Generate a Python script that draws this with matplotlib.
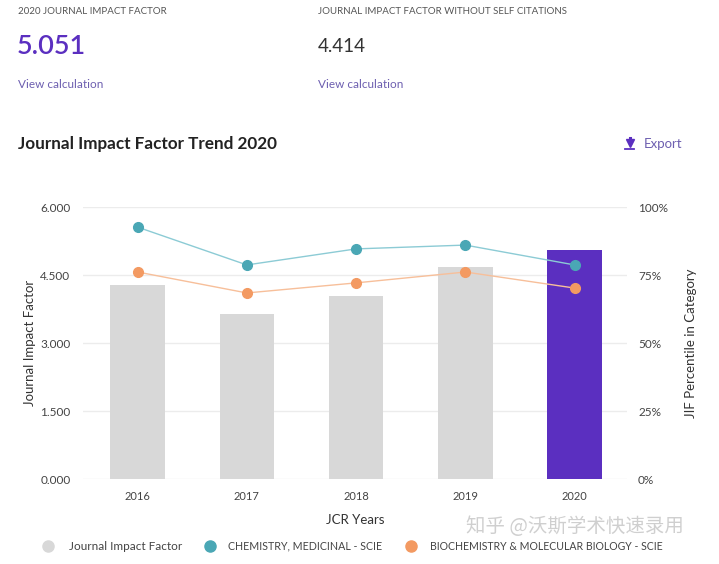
import matplotlib.pyplot as plt
from matplotlib.lines import Line2D
from matplotlib.ticker import FuncFormatter

plt.rcParams['font.family'] = ['Lato', 'DejaVu Sans']

years = ['2016', '2017', '2018', '2019', '2020']
jif = [4.28, 3.64, 4.04, 4.68, 5.051]
chem_med = [92.6, 78.7, 84.6, 86.0, 78.7]
biochem = [76.1, 68.4, 72.1, 76.1, 70.2]
y_ticks = [0, 1.5, 3.0, 4.5, 6.0]
pct_ticks = [0, 25, 50, 75, 100]

purple = '#5b2fc0'
gray_bar = '#d8d8d8'
teal = '#4aa7b5'
orange = '#f39a62'
txt = '#333333'

fig = plt.figure(figsize=(7.19, 5.64), dpi=100)
ax = fig.add_axes([83 / 719, 85 / 564, 544 / 719, 272 / 564])

x = list(range(len(years)))
colors = [gray_bar] * (len(years) - 1) + [purple]
ax.bar(x, jif, width=0.5, color=colors, zorder=2)
ax.set_ylim(0, 6)
ax.set_xlim(-0.5, 4.48)
ax.set_yticks(y_ticks)
ax.yaxis.set_major_formatter(FuncFormatter(lambda v, p: f'{v:.3f}'))
ax.set_xticks(x)
ax.set_xticklabels(years)
ax.grid(axis='y', color='#ececec', linewidth=1, zorder=0)
for s in ax.spines.values():
    s.set_visible(False)
ax.tick_params(length=0, labelsize=8.5, colors='#444444', pad=9)
ax.tick_params(axis='x', labelsize=8, pad=9)
ax.set_xlabel('JCR Years', fontsize=9.5, color=txt, labelpad=8)
ax.set_ylabel('Journal Impact Factor', fontsize=9.5, color=txt, labelpad=3)

ax2 = ax.twinx()
ax2.set_ylim(0, 100)
ax2.set_yticks(pct_ticks)
ax2.set_yticklabels([f'{p}%' for p in pct_ticks])
for s in ax2.spines.values():
    s.set_visible(False)
ax2.tick_params(length=0, labelsize=8.5, colors='#444444', pad=8)
ax2.set_ylabel('JIF Percentile in Category', fontsize=9.5, color=txt, labelpad=12)
ax2.plot(x, chem_med, color='#8ccbd5', linewidth=1, zorder=3)
ax2.plot(x, chem_med, 'o', color=teal, markersize=7, zorder=4)
ax2.plot(x, biochem, color='#f7bf9a', linewidth=1, zorder=3)
ax2.plot(x, biochem, 'o', color=orange, markersize=7, zorder=4)

# header block
fig.text(18 / 719, 1 - 11 / 564, '2020 JOURNAL IMPACT FACTOR', fontsize=7,
         color='#555555', va='center')
fig.text(318 / 719, 1 - 11 / 564, 'JOURNAL IMPACT FACTOR WITHOUT SELF CITATIONS',
         fontsize=7, color='#555555', va='center')
fig.text(17 / 719, 1 - 47 / 564, '5.051', fontsize=19.5, fontweight='semibold',
         color=purple, va='center')
fig.text(318 / 719, 1 - 47 / 564, '4.414', fontsize=13.5, color='#333333', va='center')
fig.text(18 / 719, 1 - 84 / 564, 'View calculation', fontsize=8.5, color='#6d5fb0', va='center')
fig.text(318 / 719, 1 - 84 / 564, 'View calculation', fontsize=8.5, color='#6d5fb0', va='center')
fig.text(18 / 719, 1 - 144 / 564, 'Journal Impact Factor Trend 2020', fontsize=12.3,
         fontweight='bold', color='#222222', va='center')

# export icon: down arrow over a bar
fig.add_artist(Line2D([629.5 / 719], [1 - 143 / 564], marker='v', color=purple,
                      markersize=6, linestyle='none', transform=fig.transFigure))
fig.add_artist(Line2D([629.5 / 719, 629.5 / 719], [1 - 138 / 564, 1 - 142 / 564],
                      color=purple, linewidth=2.2, transform=fig.transFigure))
fig.add_artist(Line2D([625 / 719, 634 / 719], [1 - 149 / 564, 1 - 149 / 564],
                      color=purple, linewidth=1.3, transform=fig.transFigure))
fig.text(644 / 719, 1 - 144 / 564, 'Export', fontsize=9.5, color='#6d5fb0', va='center')

# legend row
leg = [('Journal Impact Factor', gray_bar, 48, 69, 8.5),
       ('CHEMISTRY, MEDICINAL - SCIE', teal, 210, 228, 7.7),
       ('BIOCHEMISTRY & MOLECULAR BIOLOGY - SCIE', orange, 411, 430, 7.6)]
for label, c, mx, tx, fs in leg:
    fig.add_artist(Line2D([mx / 719], [1 - 546 / 564], marker='o', color=c,
                          markersize=8, linestyle='none', transform=fig.transFigure))
    fig.text(tx / 719, 1 - 546 / 564, label, fontsize=fs, color='#444444', va='center')

fig.text(466 / 719, 1 - 527 / 564, '知乎 @沃斯学术快速录用', fontsize=14,
         color='#c4c4c4', alpha=0.8, va='center',
         family=['Noto Sans CJK SC', 'DejaVu Sans'])

fig.savefig('out.png', dpi=100, facecolor='white')
